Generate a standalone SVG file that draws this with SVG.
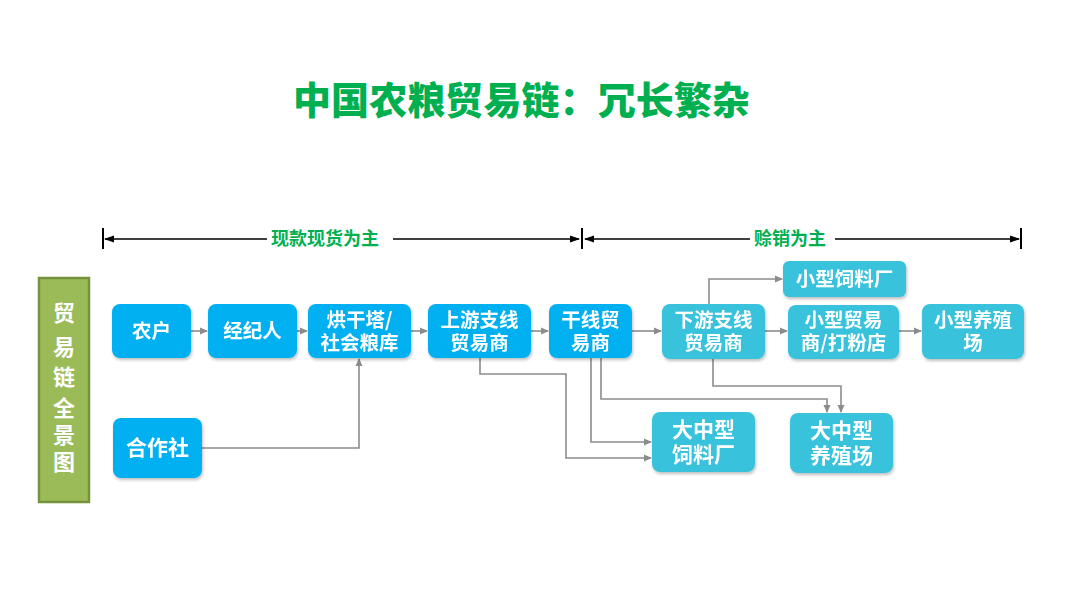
<svg xmlns="http://www.w3.org/2000/svg" width="1080" height="608" viewBox="0 0 1080 608">
<style>
text{font-family:"Noto Sans CJK SC","Liberation Sans",sans-serif;font-weight:bold}
.title{fill:#00B050;font-size:38px;font-weight:900}
.lbl{fill:#00B050;font-size:18px}
.nt{fill:#fff;font-size:19.5px;text-anchor:middle}
.big{font-size:21px}
.b1{fill:#00B0F0}
.b2{fill:#38C2DC}
.c{fill:none;stroke:#8C8C8C;stroke-width:1.6}
.k{fill:none;stroke:#000;stroke-width:1.6}
.t{stroke:#000;stroke-width:2}
</style>
<defs>
<marker id="a" markerWidth="8" markerHeight="8" refX="7" refY="4" orient="auto" markerUnits="userSpaceOnUse"><path d="M0,0.5 L8,4 L0,7.5 Z" fill="#8C8C8C"/></marker>
<marker id="b" markerWidth="10" markerHeight="8" refX="9" refY="4" orient="auto" markerUnits="userSpaceOnUse"><path d="M0,0.5 L10,4 L0,7.5 Z" fill="#000"/></marker>
<filter id="s" x="-10%" y="-10%" width="130%" height="140%"><feDropShadow dx="1" dy="2" stdDeviation="1.5" flood-color="#000" flood-opacity="0.25"/></filter>
</defs>
<rect width="1080" height="608" fill="#fff"/>
<text class="title" x="293" y="114" textLength="457" lengthAdjust="spacing">中国农粮贸易链：冗长繁杂</text>

<g id="brackets">
<line class="t" x1="103" y1="228" x2="103" y2="249"/>
<line class="t" x1="582" y1="228" x2="582" y2="249"/>
<line class="t" x1="1021" y1="228" x2="1021" y2="249"/>
<line class="k" x1="267" y1="239" x2="105" y2="239" marker-end="url(#b)"/>
<line class="k" x1="393" y1="239" x2="579" y2="239" marker-end="url(#b)"/>
<line class="k" x1="750" y1="239" x2="585" y2="239" marker-end="url(#b)"/>
<line class="k" x1="835" y1="239" x2="1019" y2="239" marker-end="url(#b)"/>
<text class="lbl" x="271" y="245">现款现货为主</text>
<text class="lbl" x="754" y="245">赊销为主</text>
</g>

<g id="side">
<rect x="39" y="278" width="50" height="224" fill="#9BBB59" stroke="#76923C" stroke-width="2.5"/>
<text fill="#fff" font-size="22" text-anchor="middle"><tspan x="64" y="321">贸</tspan><tspan x="64" y="355">易</tspan><tspan x="64" y="385">链</tspan><tspan x="64" y="416">全</tspan><tspan x="64" y="443">景</tspan><tspan x="64" y="470">图</tspan></text>
</g>

<g id="connectors">
<line class="c" x1="191" y1="331" x2="207" y2="331" marker-end="url(#a)"/>
<line class="c" x1="297" y1="331" x2="307" y2="331" marker-end="url(#a)"/>
<line class="c" x1="411" y1="331" x2="427" y2="331" marker-end="url(#a)"/>
<line class="c" x1="531" y1="331" x2="548" y2="331" marker-end="url(#a)"/>
<line class="c" x1="632" y1="331" x2="661" y2="331" marker-end="url(#a)"/>
<line class="c" x1="765" y1="331" x2="787" y2="331" marker-end="url(#a)"/>
<line class="c" x1="899" y1="331" x2="921" y2="331" marker-end="url(#a)"/>
<polyline class="c" points="709,304 709,279 782,279" marker-end="url(#a)"/>
<polyline class="c" points="202,448 359,448 359,359" marker-end="url(#a)"/>
<polyline class="c" points="480,358 480,374 566,374 566,458 651,458" marker-end="url(#a)"/>
<polyline class="c" points="591,358 591,442 651,442" marker-end="url(#a)"/>
<polyline class="c" points="601,358 601,399 827,399 827,412" marker-end="url(#a)"/>
<polyline class="c" points="713,359 713,386 841,386 841,412" marker-end="url(#a)"/>
</g>

<g id="n1" filter="url(#s)"><rect class="b1" x="112" y="304" width="79" height="54" rx="8"/><text class="nt" x="151.5" y="338">农户</text></g>
<g id="n2" filter="url(#s)"><rect class="b1" x="208" y="304" width="89" height="54" rx="8"/><text class="nt" x="252.5" y="338">经纪人</text></g>
<g id="n3" filter="url(#s)"><rect class="b1" x="308" y="304" width="103" height="54" rx="8"/><text class="nt"><tspan x="359.5" y="327">烘干塔/</tspan><tspan x="359.5" y="350">社会粮库</tspan></text></g>
<g id="n4" filter="url(#s)"><rect class="b1" x="428" y="304" width="103" height="54" rx="8"/><text class="nt"><tspan x="479.5" y="327">上游支线</tspan><tspan x="479.5" y="350">贸易商</tspan></text></g>
<g id="n5" filter="url(#s)"><rect class="b1" x="549" y="304" width="83" height="54" rx="8"/><text class="nt"><tspan x="590.5" y="327">干线贸</tspan><tspan x="590.5" y="350">易商</tspan></text></g>
<g id="n6" filter="url(#s)"><rect class="b1" x="113" y="418" width="89" height="60" rx="8"/><text class="nt big" x="157.5" y="455">合作社</text></g>
<g id="n7" filter="url(#s)"><rect class="b2" x="662" y="304" width="103" height="55" rx="8"/><text class="nt"><tspan x="713.5" y="327">下游支线</tspan><tspan x="713.5" y="350">贸易商</tspan></text></g>
<g id="n8" filter="url(#s)"><rect class="b2" x="783" y="261" width="123" height="36" rx="6"/><text class="nt" x="844.5" y="286">小型饲料厂</text></g>
<g id="n9" filter="url(#s)"><rect class="b2" x="788" y="305" width="111" height="54" rx="8"/><text class="nt"><tspan x="843.5" y="327">小型贸易</tspan><tspan x="843.5" y="350">商/打粉店</tspan></text></g>
<g id="n10" filter="url(#s)"><rect class="b2" x="922" y="304" width="102" height="55" rx="8"/><text class="nt"><tspan x="973" y="327">小型养殖</tspan><tspan x="973" y="350">场</tspan></text></g>
<g id="n11" filter="url(#s)"><rect class="b2" x="652" y="412" width="103" height="60" rx="8"/><text class="nt big"><tspan x="703.5" y="437">大中型</tspan><tspan x="703.5" y="462">饲料厂</tspan></text></g>
<g id="n12" filter="url(#s)"><rect class="b2" x="790" y="413" width="103" height="60" rx="8"/><text class="nt big"><tspan x="841.5" y="438">大中型</tspan><tspan x="841.5" y="463">养殖场</tspan></text></g>
</svg>
